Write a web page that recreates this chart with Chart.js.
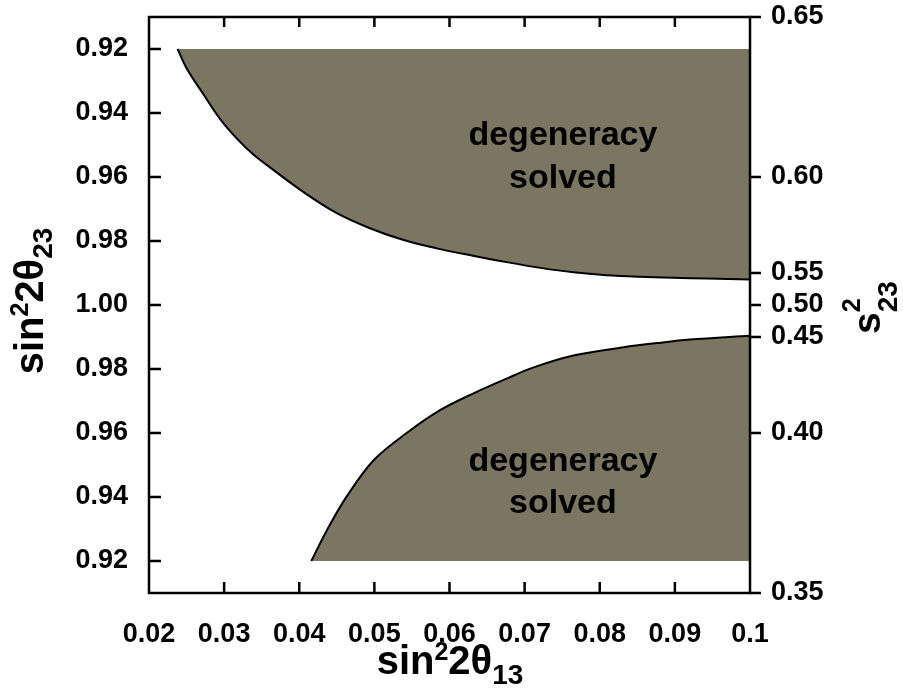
<!DOCTYPE html>
<html>
<head>
<meta charset="utf-8">
<script src="https://cdn.jsdelivr.net/npm/chart.js@4.4.0/dist/chart.umd.min.js"></script>
<style>
  html, body { margin: 0; padding: 0; background: #fff; }
  #wrap { width: 903px; height: 688px; }
</style>
</head>
<body>
<div id="wrap"><canvas id="chart" width="903" height="688"></canvas></div>
<script>
// boundary of the region where the octant degeneracy is solved
// x: sin^2 2theta13, y: sin^2 2theta23 on each octant branch
const upperX = [0.0238, 0.0250, 0.0272, 0.0295, 0.0317, 0.0339, 0.0361, 0.0405, 0.0450, 0.0494, 0.0539,
                0.0583, 0.0631, 0.0676, 0.0721, 0.0765, 0.0809, 0.0854, 0.0898, 0.0943, 0.1];
const upperSin2 = [0.920, 0.926, 0.934, 0.942, 0.948, 0.953, 0.957, 0.9646, 0.9713, 0.976, 0.9797,
                   0.9823, 0.9846, 0.9866, 0.9884, 0.9898, 0.9907, 0.9912, 0.9915, 0.9917, 0.9920];

const lowerX = [0.0416, 0.0437, 0.0463, 0.0499, 0.0543, 0.0588, 0.0632, 0.0676, 0.0712, 0.0765,
                0.0832, 0.0876, 0.0920, 0.1];
const lowerSin2 = [0.920, 0.9297, 0.9401, 0.9515, 0.9600, 0.9672, 0.9724, 0.9770, 0.9805, 0.9842,
                   0.9868, 0.9881, 0.9892, 0.9904];

const xTicks = [0.02, 0.03, 0.04, 0.05, 0.06, 0.07, 0.08, 0.09, 0.1];
const xTickLabels = ['0.02', '0.03', '0.04', '0.05', '0.06', '0.07', '0.08', '0.09', '0.1'];
const sin2Ticks = [0.92, 0.94, 0.96, 0.98, 1.00];
const s23Ticks = [0.35, 0.40, 0.45, 0.50, 0.55, 0.60, 0.65];
const regionText = ['degeneracy', 'solved'];

const FONT = "'Liberation Sans', Arial, Helvetica, sans-serif";
const FILL = '#7b7662';

// fold both octants onto one axis: +(1 - sin^2) above maximal mixing, -(1 - sin^2) below
const fold = (sin2, octant) => octant * (1 - sin2);
const foldS23 = v => Math.sign(v - 0.5) * (1 - 4 * v * (1 - v));

const leftTickValues = [];
sin2Ticks.forEach(t => leftTickValues.push(fold(t, -1)));
sin2Ticks.slice(0, -1).reverse().forEach(t => leftTickValues.push(fold(t, 1)));
const rightTickValues = s23Ticks.map(foldS23);

const upperData = upperX.map((x, i) => ({ x, y: fold(upperSin2[i], 1) }));
const lowerData = lowerX.map((x, i) => ({ x, y: fold(lowerSin2[i], -1) }));

function drawRich(ctx, parts, x, y, angle, align) {
  ctx.save();
  ctx.translate(x, y);
  ctx.rotate(angle);
  let cx = 0, last = null;
  parts.forEach(p => {
    ctx.font = `bold ${p.size}px ${FONT}`;
    p.w = ctx.measureText(p.text).width;
    if (p.stack && last) { p.x = last.x; cx = Math.max(cx, p.x + p.w); }
    else { p.x = cx; cx += p.w; }
    last = p;
  });
  const start = align === 'center' ? -cx / 2 : 0;
  ctx.fillStyle = '#000';
  ctx.textBaseline = 'alphabetic';
  ctx.textAlign = 'left';
  parts.forEach(p => {
    ctx.font = `bold ${p.size}px ${FONT}`;
    ctx.fillText(p.text, start + p.x, p.dy || 0);
  });
  ctx.restore();
}

// no label overhang padding, the frame is placed by the fixed axis sizes
function noOverhang(s) {
  s.paddingTop = 0; s.paddingBottom = 0; s.paddingLeft = 0; s.paddingRight = 0;
}

const framePlugin = {
  id: 'frame',
  afterDatasetsDraw(chart) {
    const { ctx, chartArea: a, scales } = chart;
    ctx.save();
    ctx.strokeStyle = '#000';
    ctx.lineWidth = 2.5;
    ctx.lineCap = 'butt';
    ctx.strokeRect(a.left, a.top, a.right - a.left, a.bottom - a.top);
    ctx.beginPath();
    scales.y.ticks.forEach(t => {
      const py = scales.y.getPixelForValue(t.value);
      ctx.moveTo(a.left, py); ctx.lineTo(a.left + 12, py);
    });
    scales.y2.ticks.forEach(t => {
      const py = scales.y2.getPixelForValue(t.value);
      ctx.moveTo(a.right, py); ctx.lineTo(a.right + 11, py);
    });
    scales.x.ticks.forEach((t, i) => {
      if (i === 0 || i === scales.x.ticks.length - 1) return;
      const px = scales.x.getPixelForValue(t.value);
      ctx.moveTo(px, a.top); ctx.lineTo(px, a.top + 10);
      ctx.moveTo(px, a.bottom); ctx.lineTo(px, a.bottom - 11);
    });
    ctx.stroke();
    ctx.restore();
  },
  afterDraw(chart) {
    const { ctx, scales } = chart;
    const x = scales.x, y = scales.y;

    // region labels
    ctx.save();
    ctx.fillStyle = '#000';
    ctx.font = `bold 34px ${FONT}`;
    ctx.textAlign = 'center';
    ctx.textBaseline = 'alphabetic';
    const cx = x.getPixelForValue(0.0751);
    ctx.fillText(regionText[0], cx, y.getPixelForValue(0.050));
    ctx.fillText(regionText[1], cx, y.getPixelForValue(0.0366));
    ctx.fillText(regionText[0], cx, y.getPixelForValue(-0.052));
    ctx.fillText(regionText[1], cx, y.getPixelForValue(-0.065));
    ctx.restore();

    // axis titles
    drawRich(ctx, [
      { text: 'sin', size: 40 },
      { text: '2', size: 25, dy: -14 },
      { text: '2\u03b8', size: 40 },
      { text: '13', size: 28, dy: 10 }
    ], 450, 674, 0, 'center');

    drawRich(ctx, [
      { text: 'sin', size: 40 },
      { text: '2', size: 25, dy: -15 },
      { text: '2\u03b8', size: 40 },
      { text: '23', size: 28, dy: 9 }
    ], 43, 301, -Math.PI / 2, 'center');

    drawRich(ctx, [
      { text: 's', size: 39 },
      { text: '2', size: 25, dy: -20 },
      { text: '23', size: 28, dy: 17, stack: true }
    ], 880, 334, -Math.PI / 2, 'left');
  }
};

const tickFont = { family: FONT, size: 27, weight: 'bold' };
const hiddenGrid = { display: false, drawTicks: false };

new Chart(document.getElementById('chart'), {
  type: 'scatter',
  data: {
    datasets: [
      {
        data: upperData,
        showLine: true,
        borderColor: '#000',
        borderWidth: 2,
        pointRadius: 0,
        backgroundColor: FILL,
        fill: { value: fold(upperSin2[0], 1) },
        tension: 0.35
      },
      {
        data: lowerData,
        showLine: true,
        borderColor: '#000',
        borderWidth: 2,
        pointRadius: 0,
        backgroundColor: FILL,
        fill: { value: fold(lowerSin2[0], -1) },
        tension: 0.35
      }
    ]
  },
  options: {
    responsive: false,
    animation: false,
    devicePixelRatio: 1,
    layout: { padding: { top: 17, left: 0, right: 0, bottom: 0 } },
    plugins: { legend: { display: false }, tooltip: { enabled: false } },
    scales: {
      x: {
        type: 'linear',
        position: 'bottom',
        min: 0.02,
        max: 0.1,
        grid: hiddenGrid,
        border: { display: false },
        afterBuildTicks: s => { s.ticks = xTicks.map(v => ({ value: v })); },
        afterFit: s => { s.height = 95; noOverhang(s); },
        ticks: {
          font: tickFont, color: '#000', padding: 25, autoSkip: false, maxRotation: 0,
          callback: (v, i) => xTickLabels[i]
        }
      },
      y: {
        type: 'linear',
        position: 'left',
        min: -0.09,
        max: 0.09,
        grid: hiddenGrid,
        border: { display: false },
        afterBuildTicks: s => { s.ticks = leftTickValues.map(v => ({ value: v })); },
        afterFit: s => { s.width = 149; noOverhang(s); },
        ticks: {
          font: tickFont, color: '#000', padding: 21, autoSkip: false,
          callback: v => (1 - Math.abs(v)).toFixed(2)
        }
      },
      y2: {
        type: 'linear',
        position: 'right',
        min: -0.09,
        max: 0.09,
        grid: hiddenGrid,
        border: { display: false },
        afterBuildTicks: s => { s.ticks = rightTickValues.map(v => ({ value: v })); },
        afterFit: s => { s.width = 153; noOverhang(s); },
        ticks: {
          font: tickFont, color: '#000', padding: 21, autoSkip: false,
          callback: (v, i) => s23Ticks[i].toFixed(2)
        }
      }
    }
  },
  plugins: [framePlugin]
});
</script>
</body>
</html>
